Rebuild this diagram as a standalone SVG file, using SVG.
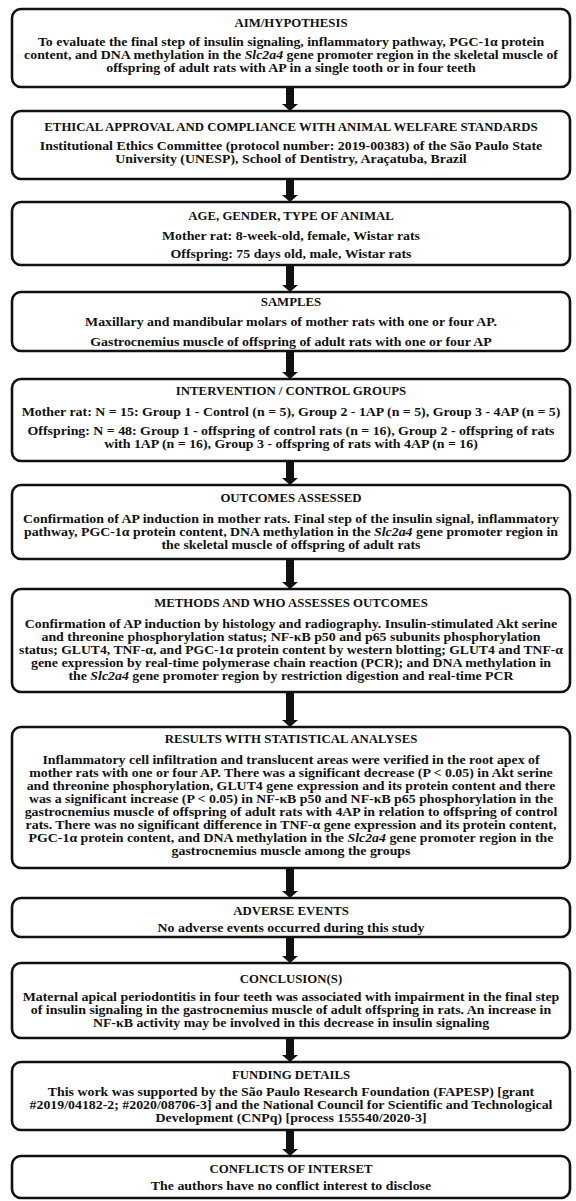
<svg xmlns="http://www.w3.org/2000/svg" width="576" height="1201" viewBox="0 0 576 1201">
<style>
.box{fill:#fff;stroke:#111;stroke-width:2.6}
.t{font-family:"Liberation Serif",serif;font-weight:bold;font-size:12.8px;text-anchor:middle;fill:#111}
.b{font-family:"Liberation Serif",serif;font-weight:bold;font-size:12.5px;text-anchor:middle;fill:#111}
.i{font-style:italic}
.arr{fill:#111}
</style>
<rect width="576" height="1201" fill="#fff"/>
<g id="connectors">
<path class="arr" d="M286 88 H294 V104 H298 L290 111 L282 104 H286 Z"/>
<path class="arr" d="M286 180 H294 V195 H298 L290 202 L282 195 H286 Z"/>
<path class="arr" d="M286 266 H294 V285 H298 L290 292 L282 285 H286 Z"/>
<path class="arr" d="M286 352 H294 V372 H298 L290 379 L282 372 H286 Z"/>
<path class="arr" d="M286 462 H294 V478 H298 L290 485 L282 478 H286 Z"/>
<path class="arr" d="M286 560 H294 V582 H298 L290 589 L282 582 H286 Z"/>
<path class="arr" d="M286 693 H294 V720 H298 L290 727 L282 720 H286 Z"/>
<path class="arr" d="M286 869 H294 V891 H298 L290 898 L282 891 H286 Z"/>
<path class="arr" d="M286 938 H294 V956 H298 L290 963 L282 956 H286 Z"/>
<path class="arr" d="M286 1039 H294 V1055 H298 L290 1062 L282 1055 H286 Z"/>
<path class="arr" d="M286 1131 H294 V1149 H298 L290 1156 L282 1149 H286 Z"/>
</g>
<g id="aim">
<rect class="box" x="12" y="9" width="558" height="78" rx="9"/>
<text class="t" x="291" y="27">AIM/HYPOTHESIS</text>
<g transform="translate(291 0) scale(1.11 1)">
<text class="b" x="0" y="46">To evaluate the final step of insulin signaling, inflammatory pathway, PGC-1α protein</text>
<text class="b" x="0" y="59">content, and DNA methylation in the <tspan class="i">Slc2a4</tspan> gene promoter region in the skeletal muscle of</text>
<text class="b" x="0" y="72">offspring of adult rats with AP in a single tooth or in four teeth</text>
</g>
</g>
<g id="ethics">
<rect class="box" x="12" y="111" width="558" height="68" rx="9"/>
<text class="t" x="291" y="131">ETHICAL APPROVAL AND COMPLIANCE WITH ANIMAL WELFARE STANDARDS</text>
<g transform="translate(291 0) scale(1.11 1)">
<text class="b" x="0" y="150">Institutional Ethics Committee (protocol number: 2019-00383) of the São Paulo State</text>
<text class="b" x="0" y="163">University (UNESP), School of Dentistry, Araçatuba, Brazil</text>
</g>
</g>
<g id="animals">
<rect class="box" x="12" y="202" width="558" height="63" rx="9"/>
<text class="t" x="291" y="220">AGE, GENDER, TYPE OF ANIMAL</text>
<g transform="translate(291 0) scale(1.11 1)">
<text class="b" x="0" y="240">Mother rat: 8-week-old, female, Wistar rats</text>
<text class="b" x="0" y="258">Offspring: 75 days old, male, Wistar rats</text>
</g>
</g>
<g id="samples">
<rect class="box" x="12" y="292" width="558" height="59" rx="9"/>
<text class="t" x="291" y="306">SAMPLES</text>
<g transform="translate(291 0) scale(1.11 1)">
<text class="b" x="0" y="326">Maxillary and mandibular molars of mother rats with one or four AP.</text>
<text class="b" x="0" y="346">Gastrocnemius muscle of offspring of adult rats with one or four AP</text>
</g>
</g>
<g id="groups">
<rect class="box" x="12" y="379" width="558" height="82" rx="9"/>
<text class="t" x="291" y="395">INTERVENTION / CONTROL GROUPS</text>
<g transform="translate(291 0) scale(1.11 1)">
<text class="b" x="0" y="416">Mother rat: N = 15: Group 1 - Control (n = 5), Group 2 - 1AP (n = 5), Group 3 - 4AP (n = 5)</text>
<text class="b" x="0" y="435">Offspring: N = 48: Group 1 - offspring of control rats (n = 16), Group 2 - offspring of rats</text>
<text class="b" x="0" y="448">with 1AP  (n = 16), Group 3 - offspring of rats with 4AP (n = 16)</text>
</g>
</g>
<g id="outcomes">
<rect class="box" x="12" y="485" width="558" height="74" rx="9"/>
<text class="t" x="291" y="502">OUTCOMES ASSESSED</text>
<g transform="translate(291 0) scale(1.11 1)">
<text class="b" x="0" y="523">Confirmation of AP induction in mother rats. Final step of the insulin signal, inflammatory</text>
<text class="b" x="0" y="536">pathway, PGC-1α protein content, DNA methylation in the <tspan class="i">Slc2a4</tspan> gene promoter region in</text>
<text class="b" x="0" y="549">the skeletal muscle of offspring of adult rats</text>
</g>
</g>
<g id="methods">
<rect class="box" x="12" y="589" width="558" height="103" rx="9"/>
<text class="t" x="291" y="607">METHODS AND WHO ASSESSES OUTCOMES</text>
<g transform="translate(291 0) scale(1.11 1)">
<text class="b" x="0" y="628">Confirmation of AP induction by histology and radiography. Insulin-stimulated Akt serine</text>
<text class="b" x="0" y="641">and threonine phosphorylation status; NF-κB p50 and p65 subunits phosphorylation</text>
<text class="b" x="0" y="654" textLength="490" lengthAdjust="spacingAndGlyphs">status; GLUT4, TNF-α, and PGC-1α protein content by western blotting; GLUT4 and TNF-α</text>
<text class="b" x="0" y="667">gene expression by real-time polymerase chain reaction (PCR); and DNA methylation in</text>
<text class="b" x="0" y="680">the <tspan class="i">Slc2a4</tspan> gene promoter region by restriction digestion and real-time PCR</text>
</g>
</g>
<g id="results">
<rect class="box" x="12" y="727" width="558" height="141" rx="9"/>
<text class="t" x="291" y="743">RESULTS WITH STATISTICAL ANALYSES</text>
<g transform="translate(291 0) scale(1.11 1)">
<text class="b" x="0" y="764">Inflammatory cell infiltration and translucent areas were verified in the root apex of</text>
<text class="b" x="0" y="777">mother rats with one or four AP. There was a significant decrease (P &lt; 0.05) in Akt serine</text>
<text class="b" x="0" y="790">and threonine phosphorylation, GLUT4 gene expression and its protein content and there</text>
<text class="b" x="0" y="803">was a significant increase (P &lt; 0.05) in NF-κB p50 and NF-κB p65 phosphorylation in the</text>
<text class="b" x="0" y="816">gastrocnemius muscle of offspring of adult rats with 4AP in relation to offspring of control</text>
<text class="b" x="0" y="829">rats. There was no significant difference in TNF-α gene expression and its protein content,</text>
<text class="b" x="0" y="842">PGC-1α protein content, and DNA methylation in the <tspan class="i">Slc2a4</tspan> gene promoter region in the</text>
<text class="b" x="0" y="855">gastrocnemius muscle among the groups</text>
</g>
</g>
<g id="adverse">
<rect class="box" x="12" y="898" width="558" height="39" rx="9"/>
<text class="t" x="291" y="915">ADVERSE EVENTS</text>
<g transform="translate(291 0) scale(1.11 1)">
<text class="b" x="0" y="932">No adverse events occurred during this study</text>
</g>
</g>
<g id="conclusion">
<rect class="box" x="12" y="963" width="558" height="75" rx="9"/>
<text class="t" x="291" y="983">CONCLUSION(S)</text>
<g transform="translate(291 0) scale(1.11 1)">
<text class="b" x="0" y="1001">Maternal apical periodontitis in four teeth was associated with impairment in the final step</text>
<text class="b" x="0" y="1014">of insulin signaling in the gastrocnemius muscle of adult offspring in rats. An increase in</text>
<text class="b" x="0" y="1027">NF-κB activity may be involved in this decrease in insulin signaling</text>
</g>
</g>
<g id="funding">
<rect class="box" x="12" y="1062" width="558" height="68" rx="9"/>
<text class="t" x="291" y="1079">FUNDING DETAILS</text>
<g transform="translate(291 0) scale(1.11 1)">
<text class="b" x="0" y="1096">This work was supported by the São Paulo Research Foundation (FAPESP) [grant</text>
<text class="b" x="0" y="1109">#2019/04182-2; #2020/08706-3] and the National Council for Scientific and Technological</text>
<text class="b" x="0" y="1122">Development (CNPq) [process 155540/2020-3]</text>
</g>
</g>
<g id="conflicts">
<rect class="box" x="12" y="1156" width="558" height="42" rx="9"/>
<text class="t" x="291" y="1173">CONFLICTS OF INTERSET</text>
<g transform="translate(291 0) scale(1.11 1)">
<text class="b" x="0" y="1190">The authors have no conflict interest to disclose</text>
</g>
</g>
</svg>
